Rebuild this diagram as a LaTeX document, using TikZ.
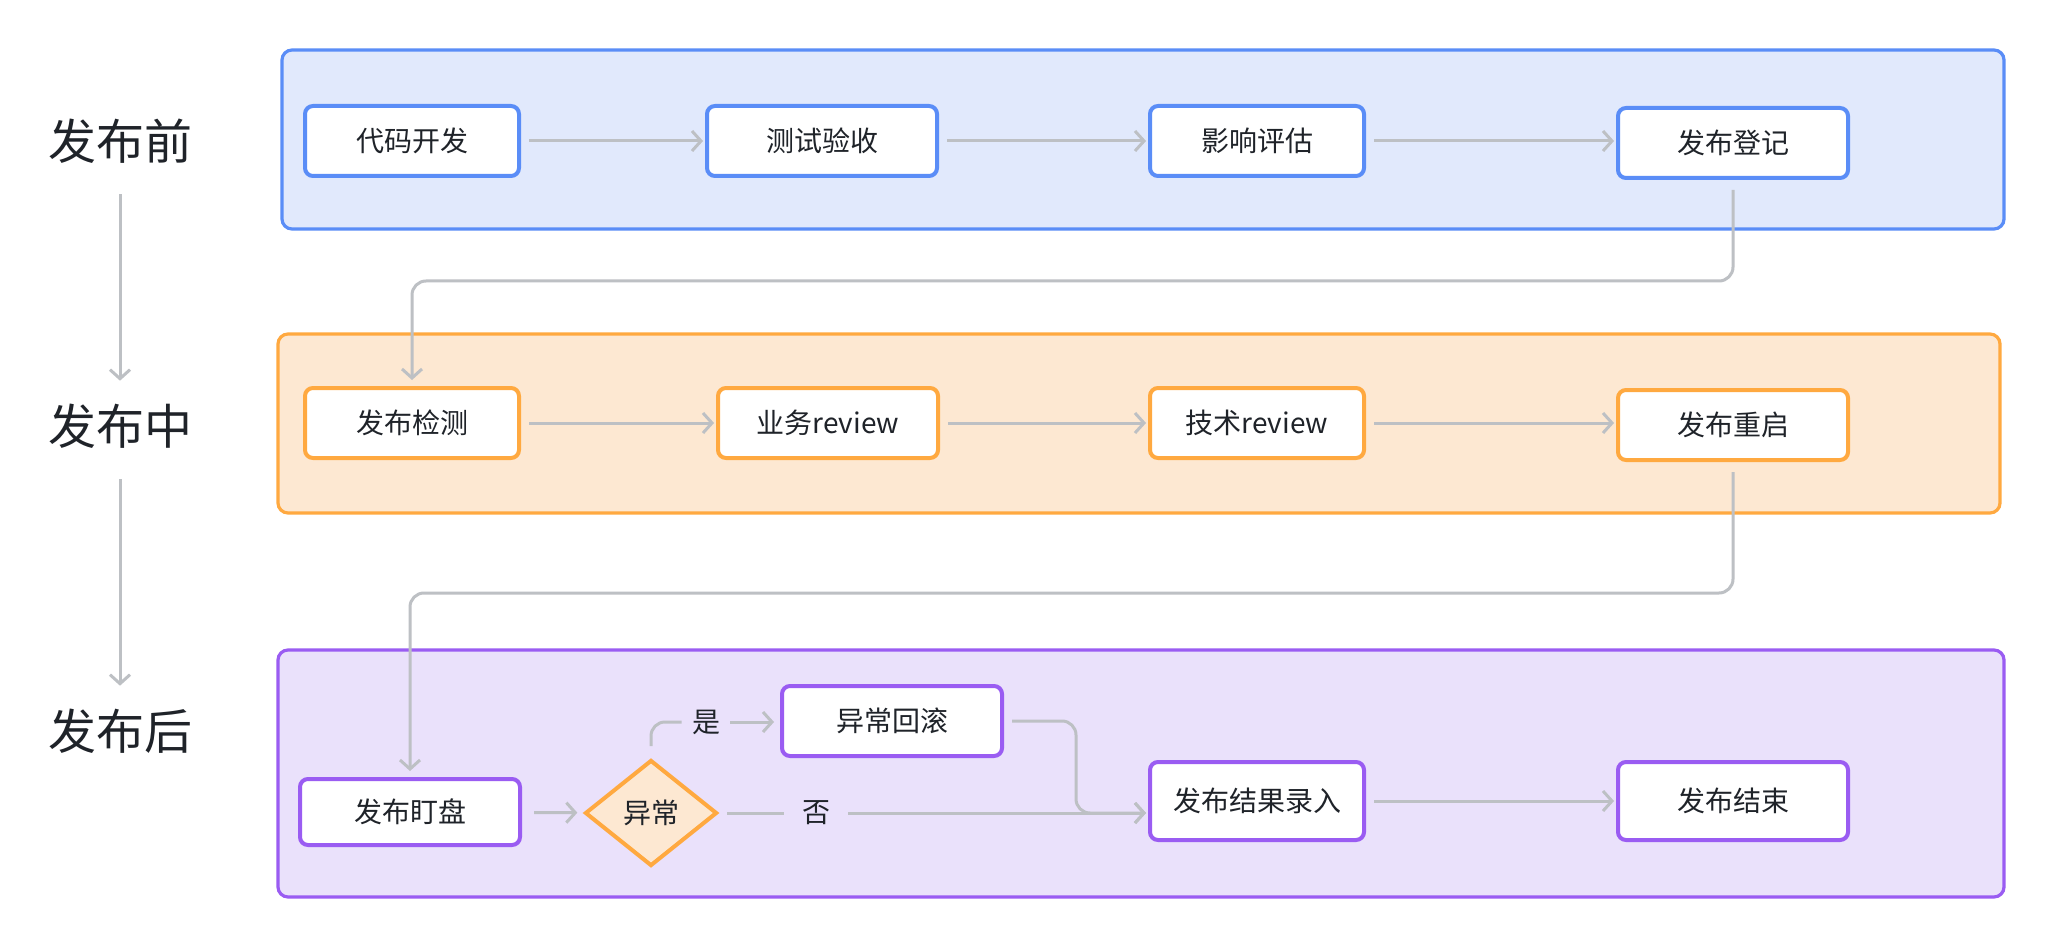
\documentclass[tikz,border=0pt]{standalone}
\usepackage{fontspec}
\setmainfont{Noto Sans CJK SC}
\definecolor{ink}      {HTML}{1F2329}
\definecolor{wire}     {HTML}{BDC0C4}
\definecolor{blueline} {HTML}{5A8DF7}
\definecolor{bluefill} {HTML}{E1E9FC}
\definecolor{orgline}  {HTML}{FFA940}
\definecolor{orgfill}  {HTML}{FDE8D2}
\definecolor{purline}  {HTML}{9A5CF2}
\definecolor{purfill}  {HTML}{EAE1FB}
\usetikzlibrary{positioning,calc,arrows.meta,shapes.geometric}
\tikzset{
  panel/.style={line width=1.6pt,rounded corners=5pt},
  stepbox/.style={draw,line width=2pt,rounded corners=4pt,fill=white,
                  minimum width=107pt,minimum height=35pt,
                  font=\fontsize{14pt}{16pt}\selectfont,text=ink},
  decide/.style={diamond,draw=orgline,line width=2pt,fill=orgfill,
                 minimum width=66pt,minimum height=53pt,inner sep=0pt,
                 font=\fontsize{14pt}{16pt}\selectfont,text=ink},
  phase/.style={font=\fontsize{24pt}{27pt}\selectfont,text=ink},
  tag/.style={font=\fontsize{14pt}{16pt}\selectfont,text=ink,inner sep=1pt},
  flow/.style={-{Straight Barb[length=4.5pt,width=10pt]},line width=1.5pt,
               draw=wire,rounded corners=7pt}
}
\begin{document}
\begin{tikzpicture}[x=0.5pt,y=-0.5pt]
  \useasboundingbox[fill=white] (0,0) rectangle (2054,946);

  % stage panels
  \draw[panel,draw=blueline,fill=bluefill] (282,50) rectangle (2004,229);
  \draw[panel,draw=orgline,fill=orgfill] (278,334) rectangle (2000,513);
  \draw[panel,draw=purline,fill=purfill] (278,650) rectangle (2004,897);

  % stage labels
  \node[phase] (pre) at (120,141) {发布前};
  \node[phase] (mid) at (120,426) {发布中};
  \node[phase] (post) at (120,731) {发布后};
  \draw[flow,shorten <=12pt,shorten >=8pt] (pre) -- (mid);
  \draw[flow,shorten <=12pt,shorten >=8pt] (mid) -- (post);

  % before release
  \node[stepbox,draw=blueline] (code) at (412,141) {代码开发};
  \node[stepbox,draw=blueline,minimum width=115pt] (test) at (822,141) {测试验收};
  \node[stepbox,draw=blueline] (impact) at (1257,141) {影响评估};
  \node[stepbox,draw=blueline,minimum width=115pt] (regist) at (1733,143) {发布登记};
  \draw[flow,shorten <=4pt,shorten >=1pt] (code) -- (test);
  \draw[flow,shorten <=4pt,shorten >=1pt] (test) -- (impact);
  \draw[flow,shorten <=4pt,shorten >=1pt] (impact) -- (regist.west |- impact);

  % during release
  \node[stepbox,draw=orgline] (check) at (412,423) {发布检测};
  \node[stepbox,draw=orgline,minimum width=110pt] (bizrev) at (828,423) {业务review};
  \node[stepbox,draw=orgline] (techrev) at (1257,423) {技术review};
  \node[stepbox,draw=orgline,minimum width=115pt] (restart) at (1733,425) {发布重启};
  \draw[flow,shorten <=4pt,shorten >=1pt] (check) -- (bizrev);
  \draw[flow,shorten <=4pt,shorten >=1pt] (bizrev) -- (techrev);
  \draw[flow,shorten <=4pt,shorten >=1pt] (techrev) -- (restart.west |- techrev);
  \draw[flow,shorten <=5pt,shorten >=3pt] (regist.south) -- ++(0,101) -| (check.north);

  % after release
  \node[stepbox,draw=purline,minimum width=110pt,minimum height=33pt] (watch) at (410,812) {发布盯盘};
  \node[decide] (abn) at (651,813) {异常};
  \node[stepbox,draw=purline,minimum width=110pt] (rollback) at (892,721) {异常回滚};
  \node[stepbox,draw=purline,minimum height=39pt] (record) at (1257,801) {发布结果录入};
  \node[stepbox,draw=purline,minimum width=115pt,minimum height=39pt] (finish) at (1733,801) {发布结束};
  \node[tag] (yes) at (706,722) {是};
  \node[tag] (no) at (816,813) {否};
  \draw[flow,shorten <=5pt,shorten >=3pt] (restart.south) -- ++(0,131) -| (watch.north);
  \draw[flow,shorten <=6pt,shorten >=3pt] (watch) -- (abn);
  \draw[flow,-,shorten <=6pt,shorten >=4pt] (abn.north) |- (yes.west);
  \draw[flow,shorten <=4pt,shorten >=3pt] (yes.east) -- (rollback.west |- yes.east);
  \draw[flow,-,shorten <=4pt,shorten >=8pt] (abn.east) -- (no.west);
  \draw[flow,shorten <=8pt,shorten >=1pt] (no.east) -- (record.west |- abn.east);
  \draw[flow,shorten <=4pt,shorten >=1pt] (rollback.east) -- ++(72,0) |- (record.west |- abn.east);
  \draw[flow,shorten <=4pt,shorten >=1pt] (record) -- (finish);
\end{tikzpicture}
\end{document}
